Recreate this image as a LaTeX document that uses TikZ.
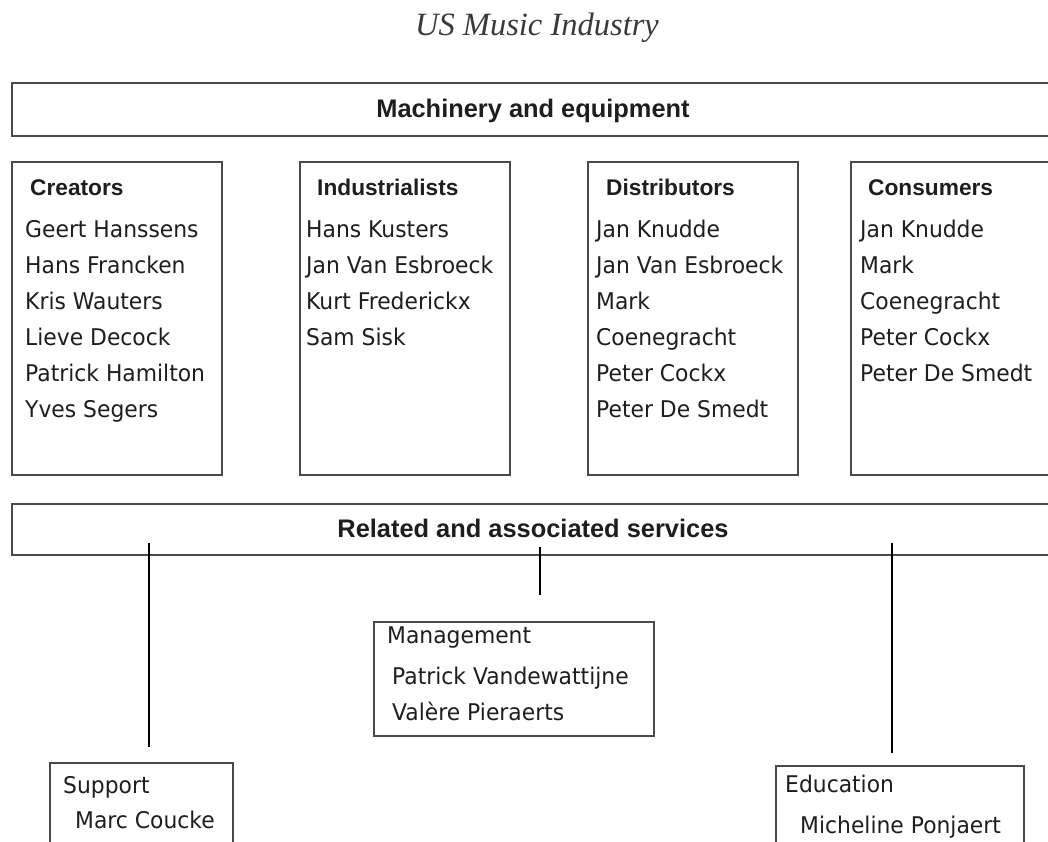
\documentclass[tikz,border=0pt]{standalone}
\usepackage{fontspec}
\newfontfamily\namefont[FakeStretch=0.95]{DejaVu Sans}
\newfontfamily\headfont{Liberation Sans}
\newfontfamily\titlefont{Liberation Serif}
\definecolor{boxgray}{HTML}{4A4A4A}
\definecolor{inkdark}{HTML}{1E1E1E}
\definecolor{titlegray}{HTML}{3A3A3A}

\begin{document}
\begin{tikzpicture}[x=1pt,y=-1pt,
  frame/.style={draw=boxgray, line width=1.7pt, inner sep=0pt, anchor=north west},
  bighead/.style={inner sep=0pt, anchor=base, text=inkdark,
    font=\headfont\bfseries\fontsize{25.4}{30}\selectfont},
  colhead/.style={inner sep=0pt, anchor=base west, text=inkdark,
    font=\headfont\bfseries\fontsize{22.7}{27}\selectfont},
  person/.style={inner sep=0pt, anchor=base west, text=inkdark,
    font=\namefont\fontsize{23}{27}\selectfont},
  link/.style={draw=black, line width=1.3pt}
]
\useasboundingbox (0,0) rectangle (1048,841);
\clip (0,0) rectangle (1048,841);
\fill[white] (0,0) rectangle (1048,841);

% title
\node[inner sep=0pt, anchor=base, text=titlegray,
  font=\titlefont\itshape\fontsize{32.5}{38}\selectfont] (title) at (537,35) {US Music Industry};

% top band
\node[frame, minimum width=1045pt, minimum height=53pt] (mach) at (11,82) {};
\node[bighead] (machlbl) at (533,117) {Machinery and equipment};

% the four columns
\node[frame, minimum width=210pt, minimum height=313pt] (creators) at (11,161) {};
\node[frame, minimum width=210pt, minimum height=313pt] (industr) at (299,161) {};
\node[frame, minimum width=210pt, minimum height=313pt] (distrib) at (587,161) {};
\node[frame, minimum width=210pt, minimum height=313pt] (consum) at (850,161) {};

\node[colhead] (hcr) at (30,195) {Creators};
\node[colhead] (hin) at (317,195) {Industrialists};
\node[colhead] (hdi) at (606,195) {Distributors};
\node[colhead] (hco) at (868,195) {Consumers};

\foreach \n [count=\i from 0] in {Geert Hanssens, Hans Francken, Kris Wauters,
    Lieve Decock, Patrick Hamilton, Yves Segers}
  \node[person] (cr\i) at (25,237+36*\i) {\n};
\foreach \n [count=\i from 0] in {Hans Kusters, Jan Van Esbroeck,
    Kurt Frederickx, Sam Sisk}
  \node[person] (in\i) at (306,237+36*\i) {\n};
\foreach \n [count=\i from 0] in {Jan Knudde, Jan Van Esbroeck, Mark,
    Coenegracht, Peter Cockx, Peter De Smedt}
  \node[person] (di\i) at (596,237+36*\i) {\n};
\foreach \n [count=\i from 0] in {Jan Knudde, Mark, Coenegracht,
    Peter Cockx, Peter De Smedt}
  \node[person] (co\i) at (860,237+36*\i) {\n};

% services band
\node[frame, minimum width=1045pt, minimum height=51pt] (rel) at (11,503) {};
\node[bighead] (rellbl) at (533,537) {Related and associated services};

% service groups
\node[frame, minimum width=280pt, minimum height=114pt] (mgmt) at (373,621) {};
\node[person] (mgmtlbl) at (387,643) {Management};
\node[person] (mg0) at (392,684) {Patrick Vandewattijne};
\node[person] (mg1) at (392,720) {Valère Pieraerts};

\node[frame, minimum width=183pt, minimum height=110pt] (supp) at (49,762) {};
\node[person] (supplbl) at (63,793) {Support};
\node[person] (sp0) at (75,828) {Marc Coucke};

\node[frame, minimum width=248pt, minimum height=110pt] (educ) at (775,765) {};
\node[person] (educlbl) at (785,792) {Education};
\node[person] (ed0) at (800,833) {Micheline Ponjaert};

% drop lines from the services band
\coordinate (supTop) at (149,543);
\coordinate (supEnd) at (149,747);
\coordinate (mgTop) at (540,547);
\coordinate (mgEnd) at (540,595);
\coordinate (edTop) at (892,543);
\coordinate (edEnd) at (892,753);
\draw[link] (supTop) -- (supEnd);
\draw[link] (mgTop) -- (mgEnd);
\draw[link] (edTop) -- (edEnd);
\end{tikzpicture}
\end{document}
